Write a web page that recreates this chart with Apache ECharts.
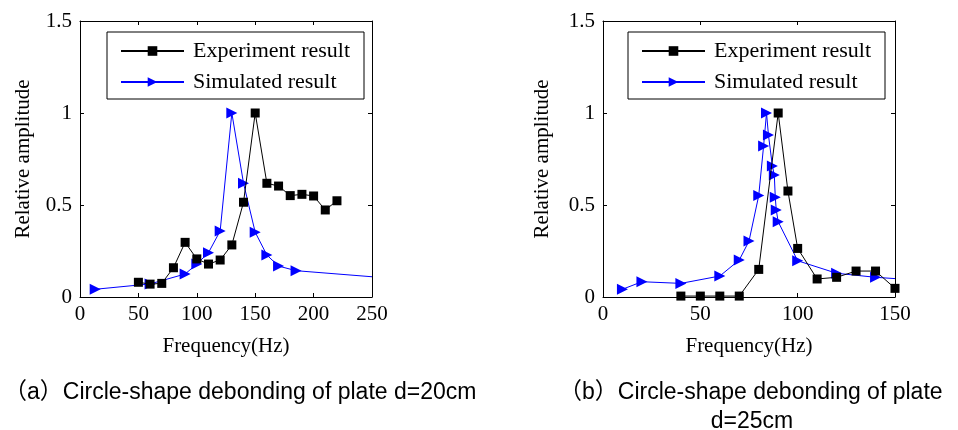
<!DOCTYPE html>
<html>
<head>
<meta charset="utf-8">
<script src="https://cdn.jsdelivr.net/npm/echarts@6/dist/echarts.min.js"></script>
<style>
  html, body { margin: 0; padding: 0; background: #fff; }
  #chart { width: 958px; height: 430px; }
</style>
</head>
<body>
<div id="chart"></div>
<script>
// Panel (a): plate with d = 20 cm
const freqExpA = [50, 60, 70, 80, 90, 100, 110, 120, 130, 140, 150, 160, 170, 180, 190, 200, 210, 220];
const ampExpA  = [0.080, 0.070, 0.074, 0.159, 0.297, 0.207, 0.179, 0.201, 0.283, 0.515, 1.0, 0.618, 0.603, 0.551, 0.558, 0.549, 0.473, 0.523];
const freqSimA = [13, 60, 90, 100, 110, 120, 130, 140, 150, 160, 170, 185, 250];
const ampSimA  = [0.042, 0.071, 0.125, 0.179, 0.241, 0.359, 1.0, 0.618, 0.352, 0.228, 0.168, 0.143, 0.110];

// Panel (b): plate with d = 25 cm
const freqExpB = [40, 50, 60, 70, 80, 90, 95, 100, 110, 120, 130, 140, 150];
const ampExpB  = [0.005, 0.005, 0.005, 0.005, 0.150, 1.0, 0.576, 0.264, 0.098, 0.107, 0.141, 0.141, 0.047];
const freqSimB = [10, 20, 40, 60, 70, 75, 80, 82.5, 84, 85, 87, 88, 88.5, 89, 90, 100, 120, 140, 150];
const ampSimB  = [0.042, 0.083, 0.074, 0.114, 0.201, 0.304, 0.551, 0.821, 1.0, 0.880, 0.712, 0.663, 0.542, 0.473, 0.409, 0.197, 0.129, 0.107, 0.100];

const xMaxA = 250, xMaxB = 150, xStep = 50;
const yMax = 1.5, yStep = 0.5;

const seriesNames = ['Experiment result', 'Simulated result'];
const xTitle = 'Frequency(Hz)';
const yTitle = 'Relative amplitude';
const captionA = '（a）Circle-shape debonding of plate d=20cm';
const captionB1 = '（b）Circle-shape debonding of plate';
const captionB2 = 'd=25cm';

const SERIF = '"Liberation Serif", "Times New Roman", serif';
const SANS = '"Liberation Sans", Arial, "Noto Sans CJK SC", sans-serif';

function pairs(xs, ys, lastBare) {
  return xs.map((x, i) => {
    if (lastBare && i === xs.length - 1) return { value: [x, ys[i]], symbol: 'none' };
    return [x, ys[i]];
  });
}

const axisLine = { show: true, onZero: false, lineStyle: { color: '#000', width: 1 } };
const axisTick = { show: true, inside: true, length: 4, lineStyle: { color: '#000', width: 1 } };

function xAxis(gridIndex, max, position, main) {
  return {
    type: 'value', gridIndex, position, min: 0, max, interval: xStep,
    axisLine, axisTick, splitLine: { show: false },
    axisLabel: { show: main, color: '#000', fontFamily: SERIF, fontSize: 21, margin: 7 },
    name: main ? xTitle : '', nameLocation: 'middle', nameGap: 39,
    nameTextStyle: { color: '#000', fontFamily: SERIF, fontSize: 21 }
  };
}

function yAxis(gridIndex, position, main, gap) {
  return {
    type: 'value', gridIndex, position, min: 0, max: yMax, interval: yStep,
    axisLine, axisTick, splitLine: { show: false },
    axisLabel: { show: main, color: '#000', fontFamily: SERIF, fontSize: 21, margin: 8 },
    name: main ? yTitle : '', nameLocation: 'middle', nameGap: gap,
    nameTextStyle: { color: '#000', fontFamily: SERIF, fontSize: 21 }
  };
}

function expSeries(xIdx, yIdx, xs, ys) {
  return {
    name: seriesNames[0], type: 'line', xAxisIndex: xIdx, yAxisIndex: yIdx,
    data: pairs(xs, ys, false), symbol: 'rect', symbolSize: 9, showAllSymbol: true,
    itemStyle: { color: '#000' }, lineStyle: { color: '#000', width: 1 },
    animation: false, z: 3
  };
}

function simSeries(xIdx, yIdx, xs, ys) {
  return {
    name: seriesNames[1], type: 'line', xAxisIndex: xIdx, yAxisIndex: yIdx,
    data: pairs(xs, ys, true), symbol: 'triangle', symbolRotate: -90, symbolSize: 11, showAllSymbol: true,
    itemStyle: { color: '#0000ff' }, lineStyle: { color: '#0000ff', width: 1 },
    animation: false, z: 2
  };
}

function legend(left) {
  return {
    left, top: 32, orient: 'vertical', data: seriesNames,
    selectedMode: false, itemWidth: 63, itemHeight: 12, itemGap: 9,
    padding: [8, 14, 6, 13],
    backgroundColor: '#fff', borderColor: '#000', borderWidth: 1, borderRadius: 0,
    textStyle: { color: '#000', fontFamily: SERIF, fontSize: 22, padding: [0, 0, 0, 4] }
  };
}

const chart = echarts.init(document.getElementById('chart'), null, { renderer: 'canvas' });
chart.setOption({
  backgroundColor: '#fff',
  animation: false,
  grid: [
    { left: 80, top: 21, width: 292, height: 276 },
    { left: 603, top: 21, width: 292, height: 276 }
  ],
  xAxis: [
    xAxis(0, xMaxA, 'bottom', true),
    xAxis(0, xMaxA, 'top', false),
    xAxis(1, xMaxB, 'bottom', true),
    xAxis(1, xMaxB, 'top', false)
  ],
  yAxis: [
    yAxis(0, 'left', true, 46),
    yAxis(0, 'right', false, 0),
    yAxis(1, 'left', true, 50),
    yAxis(1, 'right', false, 0)
  ],
  legend: [legend(107), legend(628)],
  series: [
    simSeries(0, 0, freqSimA, ampSimA),
    expSeries(0, 0, freqExpA, ampExpA),
    simSeries(2, 2, freqSimB, ampSimB),
    expSeries(2, 2, freqExpB, ampExpB)
  ],
  graphic: [
    { type: 'text', x: 4, y: 393, style: { text: captionA, font: '23px ' + SANS, fill: '#000', align: 'left', verticalAlign: 'middle' } },
    { type: 'text', x: 559, y: 393, style: { text: captionB1, font: '23px ' + SANS, fill: '#000', align: 'left', verticalAlign: 'middle' } },
    { type: 'text', x: 752, y: 422, style: { text: captionB2, font: '23px ' + SANS, fill: '#000', align: 'center', verticalAlign: 'middle' } }
  ]
});
</script>
</body>
</html>
